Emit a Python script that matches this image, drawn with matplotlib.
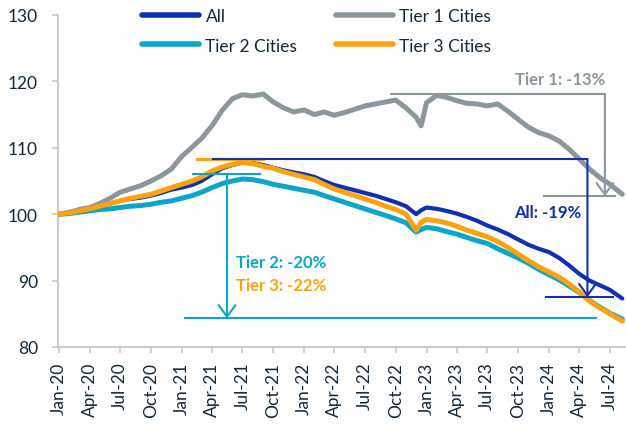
import pandas as pd
import matplotlib
matplotlib.use('Agg')
import matplotlib.pyplot as plt
import matplotlib.dates as mdates

# monthly readings (plus two points for the Dec-22 dip)
dates = ['2020-01-01', '2020-02-01', '2020-03-01', '2020-04-01', '2020-05-01', '2020-06-01',
         '2020-07-01', '2020-08-01', '2020-09-01', '2020-10-01', '2020-11-01', '2020-12-01',
         '2021-01-01', '2021-02-01', '2021-03-01', '2021-04-01', '2021-05-01', '2021-06-01',
         '2021-07-01', '2021-08-01', '2021-09-01', '2021-10-01', '2021-11-01', '2021-12-01',
         '2022-01-01', '2022-02-01', '2022-03-01', '2022-04-01', '2022-05-01', '2022-06-01',
         '2022-07-01', '2022-08-01', '2022-09-01', '2022-10-01', '2022-11-01',
         '2022-12-01', '2022-12-16',
         '2023-01-01', '2023-02-01', '2023-03-01', '2023-04-01', '2023-05-01', '2023-06-01',
         '2023-07-01', '2023-08-01', '2023-09-01', '2023-10-01', '2023-11-01', '2023-12-01',
         '2024-01-01', '2024-02-01', '2024-03-01', '2024-04-01', '2024-05-01', '2024-06-01',
         '2024-07-01', '2024-08-07']

all_cities = [100.0, 100.2, 100.5, 100.8, 101.2, 101.6, 102.0, 102.3, 102.5, 102.8, 103.2, 103.7,
              104.0, 104.4, 105.0, 106.0, 106.9, 107.4, 107.8, 107.7, 107.4, 107.0, 106.6, 106.3,
              106.0, 105.6, 105.0, 104.4, 104.0, 103.6, 103.2, 102.8, 102.3, 101.8, 101.2,
              100.0, 100.6,
              101.0, 100.8, 100.5, 100.1, 99.6, 99.0, 98.3, 97.7, 97.0, 96.2, 95.4, 94.8,
              94.3, 93.4, 92.3, 91.0, 90.0, 89.3, 88.6,
              87.3]

tier1 = [100.0, 100.3, 100.7, 101.0, 101.6, 102.4, 103.3, 103.8, 104.3, 105.0, 105.8, 106.8,
         108.7, 110.1, 111.4, 113.3, 115.6, 117.4, 118.0, 117.8, 118.1, 116.9, 116.0, 115.4,
         115.7, 115.0, 115.4, 114.9, 115.3, 115.8, 116.3, 116.6, 116.9, 117.2, 116.0,
         114.6, 113.3,
         116.8, 117.9, 117.6, 117.1, 116.7, 116.6, 116.3, 116.6, 115.5, 114.3, 113.1, 112.3,
         111.8, 111.0, 109.8, 108.3, 106.8, 105.5, 104.5,
         103.0]

tier2 = [100.0, 100.1, 100.3, 100.5, 100.7, 100.8, 101.0, 101.2, 101.3, 101.5, 101.8, 102.0,
         102.4, 102.8, 103.3, 104.0, 104.6, 105.0, 105.3, 105.2, 104.9, 104.5, 104.2, 103.9,
         103.6, 103.3, 102.8, 102.3, 101.8, 101.3, 100.8, 100.3, 99.8, 99.3, 98.7,
         97.3, 97.7,
         98.0, 97.8, 97.4, 97.0, 96.5, 96.0, 95.6, 94.8, 94.1, 93.4, 92.6, 91.7,
         90.9, 90.1, 89.2, 88.2, 87.0, 86.0, 85.1,
         84.2]

tier3 = [100.0, 100.2, 100.5, 100.8, 101.2, 101.6, 102.0, 102.4, 102.7, 103.0, 103.5, 104.0,
         104.5, 105.0, 105.6, 106.5, 107.1, 107.5, 107.8, 107.6, 107.2, 106.9, 106.4, 106.0,
         105.6, 105.2, 104.5, 103.8, 103.3, 102.8, 102.3, 101.8, 101.2, 100.7, 100.0,
         97.6, 98.8,
         99.2, 99.0, 98.7, 98.2, 97.6, 97.1, 96.6, 95.9, 95.0, 94.0, 93.0, 92.1,
         91.3, 90.5, 89.5, 88.3, 86.9, 85.9, 85.0,
         83.9]

BLUE = '#1030b0'
GRAY = '#8c979b'
CYAN = '#0aa5c8'
ORANGE = '#ffa20f'
TEXT = '#13283a'

plt.rcParams['font.family'] = ['Lato', 'DejaVu Sans']
plt.rcParams['font.size'] = 12

x = pd.to_datetime(dates)
d = pd.to_datetime

fig = plt.figure(figsize=(6.26, 4.31), dpi=100)
ax = fig.add_axes([0.0927, 0.1926, 0.9073, 0.7703])

l2, = ax.plot(x, tier2, color=CYAN, lw=3.6, solid_capstyle='round', zorder=2)
l0, = ax.plot(x, all_cities, color=BLUE, lw=3.0, solid_capstyle='round', zorder=3)
l1, = ax.plot(x, tier1, color=GRAY, lw=3.6, solid_capstyle='round', zorder=3)
l3, = ax.plot(x, tier3, color=ORANGE, lw=3.6, solid_capstyle='round', zorder=4)

# annotation brackets
ahead = '->,head_length=0.55,head_width=0.4'

# Tier 1
ax.plot([d('2022-09-18'), d('2024-06-16')], [118.1, 118.1], color=GRAY, lw=1.5, zorder=5)
ax.plot([d('2023-12-18'), d('2024-07-15')], [102.7, 102.7], color=GRAY, lw=1.5, zorder=5)
ax.annotate('', xy=(d('2024-06-16'), 102.7), xytext=(d('2024-06-16'), 118.1),
            arrowprops=dict(arrowstyle=ahead, color=GRAY, lw=1.5, mutation_scale=15,
                            shrinkA=0, shrinkB=0), zorder=5)
ax.text(d('2024-06-16'), 120.3, 'Tier 1: -13%', color=GRAY, fontweight='bold',
        ha='right', va='center')

# Tier 3 / All
ax.plot([d('2021-02-14'), d('2021-09-01')], [108.25, 108.25], color=ORANGE, lw=2.2, zorder=5)
ax.plot([d('2021-04-04'), d('2024-04-25')], [108.3, 108.3], color=BLUE, lw=1.5, zorder=6)
ax.plot([d('2023-12-24'), d('2024-07-10')], [87.5, 87.5], color=BLUE, lw=1.5, zorder=6)
ax.annotate('', xy=(d('2024-04-25'), 87.5), xytext=(d('2024-04-25'), 108.3),
            arrowprops=dict(arrowstyle=ahead, color=BLUE, lw=1.5, mutation_scale=15,
                            shrinkA=0, shrinkB=0), zorder=6)
ax.text(d('2024-04-06'), 100.3, 'All: -19%', color=BLUE, fontweight='bold',
        ha='right', va='center')

# Tier 2
ax.plot([d('2021-02-04'), d('2021-08-22')], [106.0, 106.0], color=CYAN, lw=1.5, zorder=5)
ax.plot([d('2021-01-12'), d('2024-05-22')], [84.3, 84.3], color=CYAN, lw=1.5, zorder=5)
ax.annotate('', xy=(d('2021-05-16'), 84.3), xytext=(d('2021-05-16'), 106.0),
            arrowprops=dict(arrowstyle=ahead, color=CYAN, lw=1.5, mutation_scale=15,
                            shrinkA=0, shrinkB=0), zorder=5)
ax.text(d('2021-06-11'), 92.8, 'Tier 2: -20%', color=CYAN, fontweight='bold',
        ha='left', va='center')
ax.text(d('2021-06-11'), 89.3, 'Tier 3: -22%', color=ORANGE, fontweight='bold',
        ha='left', va='center')

ax.set_ylim(80, 130)
ax.set_yticks([80, 90, 100, 110, 120, 130])
ax.set_xlim(d('2019-12-29'), d('2024-08-18'))
ax.xaxis.set_major_locator(mdates.MonthLocator(bymonth=[1, 4, 7, 10]))
ax.xaxis.set_major_formatter(mdates.DateFormatter('%b-%y'))
plt.setp(ax.get_xticklabels(), rotation=90)

for s in ['top', 'right']:
    ax.spines[s].set_visible(False)
for s in ['left', 'bottom']:
    ax.spines[s].set_color('#cccccc')
    ax.spines[s].set_linewidth(1.5)
ax.tick_params(axis='both', colors='#cccccc', labelcolor=TEXT, length=4.5, width=1.3,
               labelsize=12.5)
ax.tick_params(axis='y', pad=10)
ax.tick_params(axis='x', pad=6)

leg = fig.legend([l0, l2, l1, l3], ['All', 'Tier 2 Cities', 'Tier 1 Cities', 'Tier 3 Cities'],
                 ncol=2, loc='upper left', bbox_to_anchor=(0.227, 0.978), frameon=False,
                 borderpad=0, borderaxespad=0, handlelength=3.3, handletextpad=0.35,
                 columnspacing=2.2, labelspacing=0.75, fontsize=12.5)
for t in leg.get_texts():
    t.set_color(TEXT)
for h in leg.legend_handles:
    h.set_linewidth(4)
    h.set_solid_capstyle('round')

fig.savefig('out.png', dpi=100)
